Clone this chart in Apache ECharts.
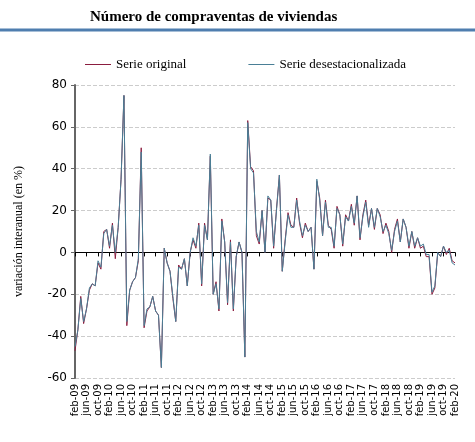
<!DOCTYPE html>
<html>
<head>
<meta charset="utf-8">
<script src="https://cdn.jsdelivr.net/npm/echarts@6/dist/echarts.min.js"></script>
<style>html,body{margin:0;padding:0;background:#fff}#chart{width:475px;height:442px}</style>
</head>
<body>
<div id="chart"></div>
<script>
// meses feb-09 .. feb-20
const mesesCortos = ["ene", "feb", "mar", "abr", "may", "jun", "jul", "ago", "sep", "oct", "nov", "dic"]
let meses = []
for (let i = 0; i < 133; i++) {
    let m = (1 + i) % 12
    let y = 9 + Math.floor((1 + i) / 12)
    meses.push(mesesCortos[m] + "-" + String(y).padStart(2, "0"))
}

const serieDesest = [
    -45, -37, -22, -33, -27, -17, -15, -16, -4, -7, 9, 11, 3, 13, 0, 12, 35, 75,
    -33, -18, -14, -12, -3, 48, -35, -27, -26, -21, -28, -30, -55, 2, -5, -9, -21,
    -33, -7, -8, -3, -16, 0, 7, 3, 13, -15, 13, 6, 47, -20, -15, -27,
    15, 5, -24, 5, -27, -2, 5, 0, -50,
    62, 40, 38, 10, 5, 20, 0, 27, 25, 3,
    20, 37, -9, 5, 18, 12, 12, 25, 15, 8, 13,
    10, 12, -8, 35, 25, 8, 24, 12, 12, 3,
    21, 18, 4, 17, 15, 22, 14, 27, 7, 17,
    24, 12, 21, 12, 21, 17, 10, 13, 9, 1,
    10, 15, 5, 16, 12, 3, 10, 3, 7, 3,
    4, -1, -1, -19, -16, 0, -2, 3, 0, 1, -5, -6
]

const serieOriginal = [
    -47, -37, -21, -34, -27, -18, -15, -16, -5, -8, 10, 11, 2, 14, -3, 12, 35, 75,
    -35, -18, -14, -12, -4, 50, -36, -28, -26, -21, -28, -30, -55, 2, -5, -9, -22,
    -33, -6, -8, -3, -16, 0, 6, 2, 14, -16, 14, 6, 46, -20, -14, -28,
    16, 5, -25, 6, -28, -2, 5, 0, -50,
    63, 41, 39, 8, 4, 20, 0, 26, 25, 2,
    21, 37, -9, 6, 19, 13, 12, 26, 14, 7, 14,
    10, 12, -8, 34, 26, 8, 25, 13, 11, 2,
    22, 18, 3, 18, 15, 23, 13, 27, 6, 18,
    25, 13, 21, 11, 21, 18, 9, 14, 10, 0,
    11, 16, 5, 16, 12, 2, 10, 2, 7, 2,
    3, -2, -2, -20, -17, 0, -2, 3, -1, 2, -4, -5
]

let chart = echarts.init(document.getElementById("chart"))
let option = {
    animation: false,
    title: {
        text: "Número de compraventas de viviendas",
        left: 85, top: 5,
        textStyle: { fontFamily: "Liberation Serif", fontSize: 15, fontWeight: "bold", color: "#000" }
    },
    graphic: [{
        type: "line",
        shape: { x1: 0, y1: 30, x2: 475, y2: 30 },
        style: { stroke: "#4f7eaf", lineWidth: 3 }
    }],
    legend: {
        top: 53, left: 80, itemGap: 62, itemWidth: 26, itemHeight: 1,
        icon: "rect",
        textStyle: { fontFamily: "Liberation Serif", fontSize: 13, color: "#000" },
        data: ["Serie original", "Serie desestacionalizada"]
    },
    grid: { left: 75, right: 20, top: 85, bottom: 64 },
    xAxis: [{
        type: "category", data: meses, boundaryGap: false,
        axisLine: { onZero: true, lineStyle: { color: "#000" } },
        axisTick: { interval: 3, length: 4, lineStyle: { color: "#000" } },
        axisLabel: { show: false }
    }, {
        type: "category", data: meses, boundaryGap: false, position: "bottom",
        axisLine: { show: false }, axisTick: { show: false },
        axisLabel: { interval: 3, rotate: 90, fontFamily: "DejaVu Sans", fontSize: 10, color: "#000", margin: 6 }
    }],
    yAxis: {
        type: "value", min: -60, max: 80, interval: 20,
        name: "variación interanual (en %)", nameLocation: "middle", nameGap: 50,
        nameTextStyle: { fontFamily: "Liberation Serif", fontSize: 12, color: "#000" },
        axisLine: { show: true, lineStyle: { color: "#666", width: 2 } },
        axisTick: { show: true, inside: false, length: 4, lineStyle: { color: "#666" } },
        axisLabel: { fontFamily: "DejaVu Sans", fontSize: 12, color: "#000" },
        splitLine: { lineStyle: { color: "#ccc", type: "dashed" } }
    },
    series: [{
        name: "Serie original", type: "line", data: serieOriginal,
        symbol: "none", color: "#8b1d3f", lineStyle: { width: 1 }
    }, {
        name: "Serie desestacionalizada", type: "line", data: serieDesest,
        symbol: "none", color: "#4a7f96", lineStyle: { width: 1 }
    }]
}
chart.setOption(option)
</script>
</body>
</html>
